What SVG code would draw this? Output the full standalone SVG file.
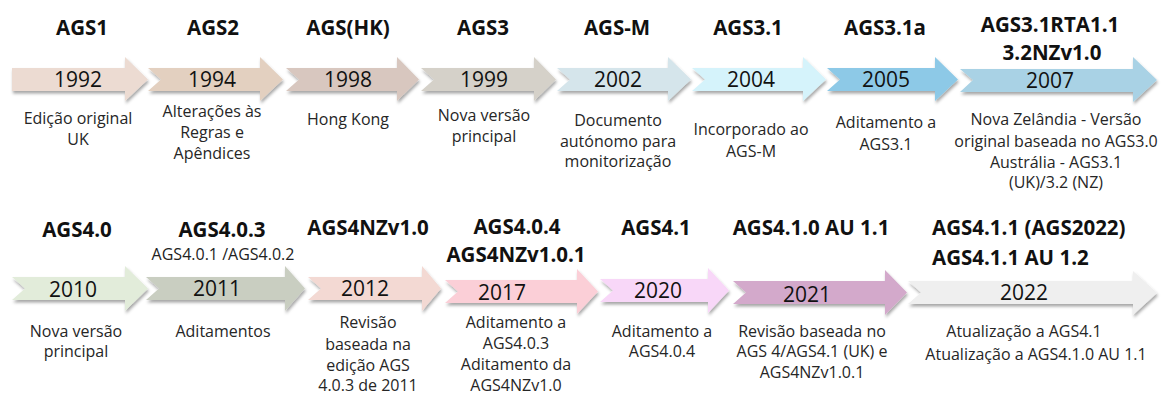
<svg xmlns="http://www.w3.org/2000/svg" width="1165" height="394" viewBox="0 0 1165 394">
<defs>
<filter id="sh" x="-5%" y="-20%" width="115%" height="160%">
<feDropShadow dx="1" dy="2.5" stdDeviation="1.6" flood-color="#000" flood-opacity="0.35"/>
</filter>
<style>
text{font-family:"Open Sans","Noto Sans","Liberation Sans",sans-serif;text-anchor:middle}
.t{font-weight:bold;font-size:20.5px;fill:#111}
.s{font-size:16px;fill:#222}
.y{font-size:21px;fill:#111}
.d{font-size:16px;fill:#262626}
.a{filter:url(#sh)}
</style>
</defs>
<rect width="1165" height="394" fill="#fff"/>
<g id="arrows-top">
<g id="n1992"><path class="a" fill="#ecdbd2" d="M12,68 H125 V57 L148,79.5 L125,101 V91 H12 Z"/><text class="y" x="78" y="87">1992</text><text class="t" x="82" y="35">AGS1</text><text class="d" x="78" y="124">Edição original</text><text class="d" x="78" y="145">UK</text></g>
<g id="n1994"><path class="a" fill="#e3d0c0" d="M148,68 H260 V57 L283,79.5 L260,101 V91 H148 L161,79.5 Z"/><text class="y" x="212" y="87">1994</text><text class="t" x="213" y="35">AGS2</text><text class="d" x="212" y="117">Alterações às</text><text class="d" x="212" y="138">Regras e</text><text class="d" x="212" y="159">Apêndices</text></g>
<g id="n1998"><path class="a" fill="#d8c7bf" d="M286,68 H397 V57 L419,79.5 L397,101 V91 H286 L299,79.5 Z"/><text class="y" x="348" y="87">1998</text><text class="t" x="348" y="35">AGS(HK)</text><text class="d" x="348" y="125">Hong Kong</text></g>
<g id="n1999"><path class="a" fill="#d5d1c9" d="M421,68 H534 V57 L556,79.5 L534,101 V91 H421 L434,79.5 Z"/><text class="y" x="484" y="87">1999</text><text class="t" x="483" y="35">AGS3</text><text class="d" x="484" y="121">Nova versão</text><text class="d" x="484" y="142">principal</text></g>
<g id="n2002"><path class="a" fill="#d5e5eb" d="M557,68 H668 V57 L691,79.5 L668,101 V91 H557 L570,79.5 Z"/><text class="y" x="618" y="87">2002</text><text class="t" x="617" y="35">AGS-M</text><text class="d" x="618" y="126">Documento</text><text class="d" x="618" y="147">autónomo para</text><text class="d" x="618" y="167">monitorização</text></g>
<g id="n2004"><path class="a" fill="#d5f3fb" d="M692,68 H803 V57 L826,79.5 L803,101 V91 H692 L705,79.5 Z"/><text class="y" x="751" y="87">2004</text><text class="t" x="748" y="35">AGS3.1</text><text class="d" x="751" y="135">Incorporado ao</text><text class="d" x="751" y="157">AGS-M</text></g>
<g id="n2005"><path class="a" fill="#8dc9e7" d="M827,68 H935 V57 L958,79.5 L935,101 V91 H827 L840,79.5 Z"/><text class="y" x="886" y="87">2005</text><text class="t" x="885" y="35">AGS3.1a</text><text class="d" x="886" y="128">Aditamento a</text><text class="d" x="886" y="150">AGS3.1</text></g>
<g id="n2007"><path class="a" fill="#a9d2e5" d="M960,69 H1133 V57 L1157,80 L1133,102 V92 H960 L973,80 Z"/><text class="y" x="1050" y="88">2007</text><text class="t" x="1050" y="32">AGS3.1RTA1.1</text><text class="t" x="1052" y="60">3.2NZv1.0</text><text class="d" x="1056" y="125">Nova Zelândia - Versão</text><text class="d" x="1056" y="147">original baseada no AGS3.0</text><text class="d" x="1056" y="168">Austrália - AGS3.1</text><text class="d" x="1056" y="188">(UK)/3.2 (NZ)</text></g>
</g>
<g id="arrows-bottom">
<g id="n2010"><path class="a" fill="#e2ecda" d="M12,277 H125 V266 L148,288.5 L125,311 V300 H12 L25,288.5 Z"/><text class="y" x="73" y="297">2010</text><text class="t" x="77" y="237">AGS4.0</text><text class="d" x="76" y="337">Nova versão</text><text class="d" x="76" y="357">principal</text></g>
<g id="n2011"><path class="a" fill="#c9cec1" d="M146,277 H285 V266 L305,288.5 L285,311 V300 H146 L159,288.5 Z"/><text class="y" x="217" y="296">2011</text><text class="t" x="222" y="237">AGS4.0.3</text><text class="s" x="223" y="260">AGS4.0.1 /AGS4.0.2</text><text class="d" x="223" y="337">Aditamentos</text></g>
<g id="n2012"><path class="a" fill="#f3d9d3" d="M308,277 H422 V266 L441,288.5 L422,311 V300 H308 L321,288.5 Z"/><text class="y" x="365" y="296">2012</text><text class="t" x="368" y="235">AGS4NZv1.0</text><text class="d" x="368" y="328">Revisão</text><text class="d" x="368" y="350">baseada na</text><text class="d" x="368" y="371">edição AGS</text><text class="d" x="368" y="391">4.0.3 de 2011</text></g>
<g id="n2017"><path class="a" fill="#fbcfd7" d="M445,280 H577 V269 L598,291.5 L577,314 V303 H445 L458,291.5 Z"/><text class="y" x="502" y="300">2017</text><text class="t" x="517" y="234">AGS4.0.4</text><text class="t" x="516" y="262">AGS4NZv1.0.1</text><text class="d" x="516" y="328">Aditamento a</text><text class="d" x="516" y="349">AGS4.0.3</text><text class="d" x="516" y="370">Aditamento da</text><text class="d" x="516" y="391">AGS4NZv1.0</text></g>
<g id="n2020"><path class="a" fill="#f8d7f8" d="M600,279 H708 V268 L729,290.5 L708,313 V302 H600 L613,290.5 Z"/><text class="y" x="658" y="298">2020</text><text class="t" x="656" y="235">AGS4.1</text><text class="d" x="662" y="337">Aditamento a</text><text class="d" x="662" y="357">AGS4.0.4</text></g>
<g id="n2021"><path class="a" fill="#d3a9cb" d="M733,281 H885 V270 L907,292.5 L885,315 V304 H733 L746,292.5 Z"/><text class="y" x="807" y="302">2021</text><text class="t" x="811" y="235">AGS4.1.0 AU 1.1</text><text class="d" x="812" y="337">Revisão baseada no</text><text class="d" x="812" y="357">AGS 4/AGS4.1 (UK) e</text><text class="d" x="812" y="378">AGS4NZv1.0.1</text></g>
<g id="n2022"><path class="a" fill="#efefef" d="M908,281 H1133 V271 L1157,293 L1133,315 V304 H908 L921,292.5 Z"/><text class="y" x="1024" y="300">2022</text><text class="t" x="932" y="235" style="text-anchor:start">AGS4.1.1 (AGS2022)</text><text class="t" x="932" y="265" style="text-anchor:start">AGS4.1.1 AU 1.2</text><text class="d" x="1024" y="337">Atualização a AGS4.1</text><text class="d" x="1036" y="360">Atualização a AGS4.1.0 AU 1.1</text></g>
</g>
</svg>
